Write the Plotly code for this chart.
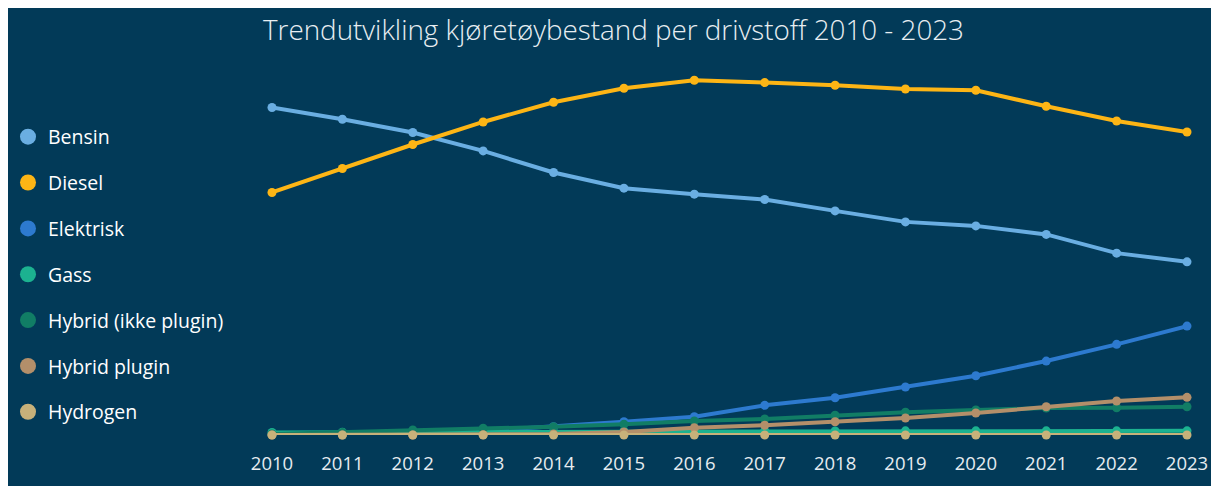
import plotly.graph_objects as go

years = list(range(2010, 2024))
series_names = ["Bensin", "Diesel", "Elektrisk", "Gass", "Hybrid (ikke plugin)", "Hybrid plugin", "Hydrogen"]

# Vehicle stock (thousands)
bensin = [2294, 2212, 2119, 1990, 1839, 1729, 1687, 1650, 1570, 1493, 1465, 1405, 1274, 1213]
diesel = [1699, 1867, 2035, 2193, 2331, 2429, 2485, 2469, 2450, 2424, 2415, 2303, 2200, 2123]
elektrisk = [4, 7, 14, 28, 58, 93, 128, 208, 261, 336, 415, 518, 635, 763]
gass = [18, 19, 20, 22, 24, 26, 27, 28, 28, 29, 29, 29, 29, 29]
hybrid = [7, 18, 35, 47, 58, 75, 98, 112, 138, 159, 175, 189, 191, 198]
hybrid_plugin = [0, 0, 0, 2, 7, 21, 51, 68, 93, 119, 154, 198, 238, 264]
hydrogen = [0, 0, 0, 0, 0, 0, 0, 0, 0, 0, 0, 0, 0, 0]

values = [bensin, diesel, elektrisk, gass, hybrid, hybrid_plugin, hydrogen]
colors = ["#6AAEE2", "#FDB515", "#2D7ACF", "#1CB290", "#117D65", "#B38F6A", "#C7B17A"]

BG = "#023A58"
FONT = "Segoe UI, Open Sans, Noto Sans, sans-serif"

fig = go.Figure()
for name, vals, col in zip(series_names, values, colors):
    fig.add_trace(go.Scatter(
        x=years, y=vals, name=name, mode="lines+markers",
        line=dict(color=col, width=4),
        marker=dict(color=col, size=9),
        cliponaxis=False, showlegend=False, legendgroup=name,
        hovertemplate="%{x}: %{y}k<extra>" + name + "</extra>",
    ))
for name, col in zip(series_names, colors):
    fig.add_trace(go.Scatter(
        x=[None], y=[None], name=name, mode="markers",
        marker=dict(color=col, size=17),
        showlegend=True, legendgroup=name,
    ))

fig.update_layout(
    width=1211, height=478,
    paper_bgcolor=BG, plot_bgcolor=BG,
    margin=dict(l=264, r=32, t=63, b=51, autoexpand=False),
    font=dict(family=FONT, color="#FFFFFF", size=16),
    title=dict(
        text="Trendutvikling kjøretøybestand per drivstoff 2010 - 2023",
        x=0.5, xref="container", xanchor="center",
        y=1 - 22 / 478, yref="container", yanchor="middle",
        font=dict(family=FONT, size=27.8, color="#E8EEF2", weight=300),
    ),
    legend=dict(
        xref="container", yref="container",
        x=0.0, xanchor="left", y=1 - 109.5 / 478, yanchor="top",
        font=dict(family=FONT, size=19.5, color="#FFFFFF"),
        tracegroupgap=17.5, itemwidth=30, maxheight=420,
        bgcolor="rgba(0,0,0,0)",
    ),
    xaxis=dict(
        range=[2010, 2023], tickvals=years, ticktext=[str(y) for y in years],
        showgrid=False, zeroline=False, showline=False, ticks="", automargin=False,
        tickfont=dict(family=FONT, size=18.5, color="#E6ECF0"), ticklabelstandoff=15,
    ),
    yaxis=dict(
        range=[0, 2550], showgrid=False, zeroline=False, showline=False,
        showticklabels=False, ticks="", automargin=False,
    ),
    showlegend=True,
)

fig.write_html("out.html", post_script="document.body.style.overflow='hidden';")
